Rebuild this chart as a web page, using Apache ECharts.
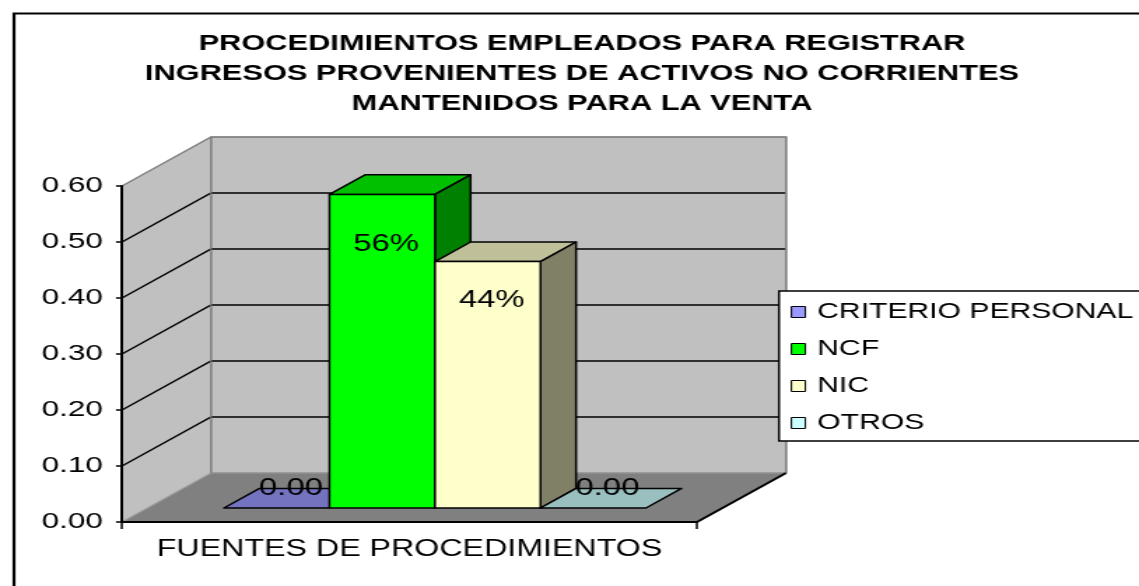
<!DOCTYPE html>
<html>
<head>
<meta charset="utf-8">
<script src="https://cdn.jsdelivr.net/npm/echarts@6/dist/echarts.min.js"></script>
<style>
html,body{margin:0;padding:0;background:#fff;overflow:hidden;width:1139px;height:586px;}
#c{width:814px;height:586px;transform:scaleX(1.39926);transform-origin:0 0;}
</style>
</head>
<body>
<div id="c"></div>
<script>
// ---- data ----
const titleLines = [
  'PROCEDIMIENTOS EMPLEADOS PARA REGISTRAR',
  'INGRESOS PROVENIENTES DE ACTIVOS NO CORRIENTES',
  'MANTENIDOS PARA LA VENTA'
];
const xCategories = ['FUENTES DE PROCEDIMIENTOS'];
const seriesNames = ['CRITERIO PERSONAL', 'NCF', 'NIC', 'OTROS'];
const seriesValues = [0.00, 0.56, 0.44, 0.00];
const yTicks = [0.0, 0.1, 0.2, 0.3, 0.4, 0.5, 0.6];

// ---- styles ----
const frontColors = ['#9999ff', '#00ff00', '#ffffcc', '#ccffff'];
const topColors   = ['#7373bf', '#00c000', '#bfbf99', '#99bfbf'];
const sideColors  = ['#4d4d80', '#008000', '#808066', '#668080'];
const FONT = '"Liberation Sans", Arial, sans-serif';

const S = 1139 / 814;            // horizontal stretch of the reference
const RX = v => v / S;           // reference px -> chart px (horizontal)
const DX = RX(89), DY = -49;     // depth vector of the 3D box
const F0 = 0.286, F1 = 0.686;    // bar depth (front / back) as fraction of depth
const BW = 0.1835;               // bar width as fraction of the category band

function wallsRender(params, api) {
  const cs = params.coordSys;
  const x0 = cs.x, x1 = cs.x + cs.width;
  const yv = v => api.coord([0, v])[1];
  const yMin = yv(yTicks[0]), yMax = yv(yTicks[yTicks.length - 1]);
  const ch = [];
  ch.push({type:'polygon', shape:{points:[[x0,yMin],[x1,yMin],[x1+DX,yMin+DY],[x0+DX,yMin+DY]]}, style:{fill:'#808080'}});
  ch.push({type:'polygon', shape:{points:[[x0,yMin],[x0,yMax],[x0+DX,yMax+DY],[x0+DX,yMin+DY]]}, style:{fill:'#c0c0c0'}});
  ch.push({type:'rect', shape:{x:x0+DX, y:yMax+DY, width:cs.width, height:yMin-yMax}, style:{fill:'#c0c0c0', stroke:'#808080', lineWidth:1.2}});
  for (let i = 1; i < yTicks.length - 1; i++) {
    const y = yv(yTicks[i]);
    ch.push({type:'polyline', shape:{points:[[x0,y],[x0+DX,y+DY],[x1+DX,y+DY]]}, style:{stroke:'#000', lineWidth:1.5, fill:null}});
  }
  ch.push({type:'polyline', shape:{points:[[x0,yMax],[x0+DX,yMax+DY],[x1+DX,yMax+DY],[x1+DX,yMin+DY]]}, style:{stroke:'#808080', lineWidth:1.5, fill:null}});
  ch.push({type:'polyline', shape:{points:[[x0,yMin],[x0+DX,yMin+DY],[x1+DX,yMin+DY]]}, style:{stroke:'#9a9a9a', lineWidth:1.2, fill:null}});
  ch.push({type:'line', shape:{x1:x0+DX, y1:yMax+DY, x2:x0+DX, y2:yMin+DY}, style:{stroke:'#808080', lineWidth:1.2}});
  ch.push({type:'line', shape:{x1:x1, y1:yMin, x2:x1+DX, y2:yMin+DY}, style:{stroke:'#000', lineWidth:2}});
  return {type:'group', children:ch};
}

function barRender(params, api) {
  const i = seriesNames.indexOf(params.seriesName);
  const cs = params.coordSys;
  const v = api.value(1);
  const yv = val => api.coord([0, val])[1];
  const P = (xf, val, d) => [cs.x + xf * cs.width + d * DX, yv(val) + d * DY];
  const xa = 0.5 - 2 * BW + i * BW, xb = xa + BW;
  const ch = [];
  const stroke = {stroke:'#000', lineWidth:1.5, lineJoin:'round'};
  ch.push({type:'polygon', shape:{points:[P(xa,v,F0),P(xb,v,F0),P(xb,v,F1),P(xa,v,F1)]}, style:Object.assign({fill:topColors[i]}, stroke)});
  if (v > 0) {
    ch.push({type:'polygon', shape:{points:[P(xb,0,F0),P(xb,v,F0),P(xb,v,F1),P(xb,0,F1)]}, style:Object.assign({fill:sideColors[i]}, stroke)});
    ch.push({type:'polygon', shape:{points:[P(xa,0,F0),P(xb,0,F0),P(xb,v,F0),P(xa,v,F0)]}, style:Object.assign({fill:frontColors[i]}, stroke)});
  }
  const cx = (xa + xb) / 2;
  let lp, txt;
  if (v > 0) {
    lp = P(cx, v * 0.84, F0); lp[0] += RX(4);
    txt = Math.round(v * 100) + '%';
  } else {
    lp = [P(cx, 0, F0 + 0.16)[0], P(cx, 0, F1)[1]];
    txt = v.toFixed(2);
  }
  ch.push({type:'text', x:lp[0], y:lp[1], style:{text:txt, fontSize:23.5, fontFamily:FONT, fill:'#000', align:'center', verticalAlign:'middle'}});
  return {type:'group', children:ch};
}

const series = [{
  type:'custom', name:'__walls', renderItem:wallsRender, data:[[0, 0]], z:1, clip:false, silent:true
}];
seriesNames.forEach((n, i) => {
  series.push({
    type:'custom', name:n, renderItem:barRender, data:[[0, seriesValues[i]]],
    encode:{x:0, y:1}, z:2, clip:false,
    itemStyle:{color:frontColors[i], borderColor:'#000', borderWidth:1}
  });
});

const chart = echarts.init(document.getElementById('c'), null, {renderer:'canvas'});
chart.setOption({
  animation:false,
  backgroundColor:'#fff',
  title:{
    text:titleLines.join('\n'), left:RX(582), top:29, textAlign:'center', padding:0,
    textStyle:{fontSize:22, fontWeight:'bold', fontFamily:FONT, lineHeight:30, color:'#000'}
  },
  legend:{
    orient:'vertical', left:RX(779), top:291, data:seriesNames, icon:'rect',
    itemWidth:RX(14), itemHeight:11, itemGap:11,
    padding:[8, 60, 5, RX(11.7)],
    borderColor:'#000', borderWidth:1.5, backgroundColor:'#fff',
    itemStyle:{borderColor:'#000', borderWidth:1},
    textStyle:{fontSize:21.5, fontFamily:FONT, color:'#000', lineHeight:26, padding:[0,0,0,3.5]}
  },
  graphic:[{
    type:'rect', left:RX(10.5), top:11, z:100, silent:true,
    shape:{x:0, y:0, width:2000, height:2000},
    style:{fill:null, stroke:'#000', lineWidth:2.2}
  }],
  grid:{left:RX(122), top:186, width:RX(575), height:336, containLabel:false, outerBoundsMode:'none'},
  xAxis:{
    type:'category', data:xCategories, boundaryGap:true, z:5,
    axisLine:{show:true, lineStyle:{color:'#000', width:2}},
    axisTick:{show:true, length:7, lineStyle:{color:'#000', width:1.5}},
    axisLabel:{fontSize:23, fontFamily:FONT, color:'#000', margin:16},
    splitLine:{show:false}
  },
  yAxis:{
    type:'value', min:yTicks[0], max:yTicks[yTicks.length-1], interval:0.1, z:5,
    axisLine:{show:true, lineStyle:{color:'#000', width:2}},
    axisTick:{show:true, length:RX(6), lineStyle:{color:'#000', width:1.5}},
    axisLabel:{fontSize:22.5, fontFamily:FONT, color:'#000', margin:RX(19), padding:[4,0,0,0], formatter:v => v.toFixed(2)},
    splitLine:{show:false}
  },
  series:series
});
</script>
</body>
</html>
